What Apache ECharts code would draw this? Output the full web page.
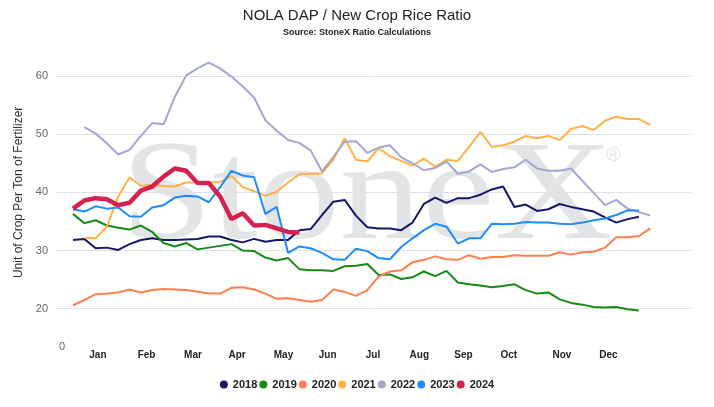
<!DOCTYPE html>
<html>
<head>
<meta charset="utf-8">
<script src="https://cdn.jsdelivr.net/npm/echarts@6/dist/echarts.min.js"></script>
<style>
  html, body { margin: 0; padding: 0; background: #fff; }
  #ratio-chart { width: 714px; height: 407px; }
</style>
</head>
<body>
<div id="ratio-chart"></div>
<script>
// week number of the year (0 = first week of Jan)
var weeks = [0, 1, 2, 3, 4, 5, 6, 7, 8, 9, 10, 11, 12, 13, 14, 15, 16, 17, 18, 19, 20,
    21, 22, 23, 24, 25, 26, 27, 28, 29, 30, 31, 32, 33, 34, 35, 36, 37, 38, 39, 40,
    41, 42, 43, 44, 45, 46, 47, 48, 49, 50, 51];

// month labels and where they sit on the week axis
var monthLabels = ['Jan', 'Feb', 'Mar', 'Apr', 'May', 'Jun', 'Jul', 'Aug', 'Sep', 'Oct', 'Nov', 'Dec'];
var monthPos = [2.2, 6.5, 10.6, 14.5, 18.6, 22.5, 26.5, 30.6, 34.5, 38.5, 43.2, 47.3];

var years = ['2018', '2019', '2020', '2021', '2022', '2023', '2024'];
var colors = ['#16166b', '#168a16', '#ff7f50', '#ffb347', '#a3a7d1', '#1e8cff', '#d42150'];

var y2018 = [31.8, 32.0, 30.4, 30.5, 30.1, 31.1, 31.8, 32.1, 31.8, 31.8, 31.9, 32.0, 32.4,
    32.4, 31.8, 31.4, 32.0, 31.5, 31.8, 31.8, 33.5, 33.7, 36.1, 38.4, 38.7, 36.0, 34.0,
    33.8, 33.8, 33.5, 34.8, 38.0, 39.1, 38.2, 39.0, 39.0, 39.6, 40.5, 41.0, 37.5, 37.9,
    36.8, 37.1, 38.0, 37.5, 37.1, 36.7, 35.7, 34.8, 35.4, 35.8, null];
var y2019 = [36.3, 34.7, 35.2, 34.3, 33.9, 33.6, 34.3, 33.2, 31.3, 30.7, 31.3, 30.2, 30.5,
    30.8, 31.1, 30.0, 29.9, 28.8, 28.3, 28.7, 26.8, 26.6, 26.6, 26.5, 27.3, 27.4, 27.7,
    25.8, 25.9, 25.1, 25.4, 26.4, 25.6, 26.5, 24.5, 24.2, 24.0, 23.7, 23.9, 24.2, 23.2,
    22.6, 22.8, 21.6, 21.0, 20.7, 20.3, 20.2, 20.3, 19.9, 19.7, null];
var y2020 = [20.6, 21.5, 22.5, 22.6, 22.8, 23.3, 22.8, 23.2, 23.4, 23.3, 23.2, 22.9, 22.6,
    22.6, 23.6, 23.7, 23.3, 22.6, 21.7, 21.8, 21.5, 21.2, 21.5, 23.3, 22.9, 22.2, 23.2,
    25.5, 26.4, 26.6, 28.0, 28.4, 29.0, 28.5, 28.4, 29.2, 28.6, 28.9, 28.9, 29.2, 29.1,
    29.1, 29.1, 29.7, 29.3, 29.7, 29.8, 30.5, 32.3, 32.3, 32.5, 33.8];
var y2021 = [null, 32.2, 32.1, 34.1, 39.3, 42.6, 41.1, 41.3, 41.1, 41.0, 41.7, 41.7, 41.7,
    41.8, 42.8, 40.9, 40.2, 39.4, 40.1, 41.7, 43.1, 43.2, 43.3, 45.6, 49.3, 45.6, 45.3,
    47.6, 46.2, 45.4, 44.6, 45.8, 44.4, 45.6, 45.4, 47.8, 50.4, 47.8, 48.1, 48.7, 49.7,
    49.3, 49.7, 49.0, 50.9, 51.4, 50.7, 52.3, 53.0, 52.6, 52.6, 51.6];
var y2022 = [null, 51.2, 50.1, 48.4, 46.5, 47.3, 49.7, 51.9, 51.7, 56.4, 60.1, 61.3, 62.3,
    61.3, 59.9, 58.2, 56.3, 52.4, 50.6, 49.0, 48.5, 47.2, 43.6, 46.1, 48.7, 48.8, 46.8,
    47.7, 48.1, 46.0, 45.0, 43.8, 44.2, 45.3, 43.2, 43.6, 44.8, 43.5, 44.0, 44.3, 45.6,
    44.1, 43.7, 43.7, 44.1, 42.0, 39.9, 37.8, 38.7, 37.2, 36.6, 36.0];
var y2023 = [37.1, 36.7, 37.6, 37.2, 37.4, 35.9, 35.8, 37.4, 37.8, 39.1, 39.4, 39.3, 38.3,
    40.9, 43.7, 42.9, 42.6, 36.3, 37.5, 29.6, 30.7, 30.4, 29.6, 28.5, 28.4, 30.3, 29.9,
    28.7, 28.5, 30.6, 32.1, 33.5, 34.6, 34.1, 31.2, 32.1, 32.1, 34.6, 34.5, 34.6, 34.9,
    34.8, 34.8, 34.6, 34.5, 34.8, 35.2, 35.5, 36.1, 36.9, 36.9, null];
var y2024 = [37.2, 38.6, 39.0, 38.8, 37.8, 38.2, 40.3, 41.0, 42.7, 44.1, 43.7, 41.6, 41.6,
    39.3, 35.4, 36.4, 34.3, 34.4, 33.8, 33.2, 33.1];

var yearValues = [y2018, y2019, y2020, y2021, y2022, y2023, y2024];

var yTicks = [10, 20, 30, 40, 50, 60, 70];

function toPoints(vals) {
    var pts = [];
    for (var i = 0; i < vals.length; i++) {
        if (vals[i] !== null) pts.push([weeks[i], vals[i]]);
    }
    return pts;
}

var myChart = echarts.init(document.getElementById('ratio-chart'));

var series = years.map(function (yr, k) {
    return {
        name: yr,
        type: 'line',
        data: toPoints(yearValues[k]),
        showSymbol: false,
        symbol: 'circle',
        lineStyle: { width: yr === '2024' ? 4.5 : 2, color: colors[k] },
        itemStyle: { color: colors[k] },
        z: 3 + k
    };
});

var option = {
    backgroundColor: '#FFFFFF',
    animation: false,
    textStyle: { fontFamily: 'Liberation Sans' },
    title: {
        text: 'NOLA DAP / New Crop Rice Ratio',
        subtext: 'Source: StoneX Ratio Calculations',
        left: 'center',
        top: 3,
        itemGap: 5,
        textStyle: { fontSize: 15, fontWeight: 'normal', color: '#222', fontFamily: 'Liberation Sans' },
        subtextStyle: { fontSize: 9, fontWeight: 'bold', color: '#222', fontFamily: 'Liberation Sans' }
    },
    legend: {
        data: years,
        top: 374,
        left: 'center',
        icon: 'circle',
        itemWidth: 8,
        itemHeight: 8,
        itemGap: 2,
        textStyle: { fontSize: 11, fontWeight: 'bold', color: '#222', fontFamily: 'Liberation Sans' }
    },
    grid: { left: 56, right: 23, top: 17.8, bottom: 40.1, containLabel: false },
    xAxis: {
        type: 'value',
        min: -1.5,
        max: 54.6,
        offset: -25,
        axisLine: { show: false },
        axisTick: { show: false },
        splitLine: { show: false },
        axisLabel: {
            customValues: monthPos,
            margin: 8,
            fontSize: 10,
            fontWeight: 'bold',
            color: '#222',
            formatter: function (v) {
                var idx = monthPos.indexOf(v);
                return idx >= 0 ? monthLabels[idx] : '';
            }
        }
    },
    yAxis: {
        type: 'value',
        min: yTicks[0],
        max: yTicks[yTicks.length - 1],
        interval: 10,
        name: 'Unit of Crop Per Ton of Fertilizer',
        nameLocation: 'middle',
        nameGap: 22,
        nameTextStyle: { fontSize: 12, color: '#333', fontFamily: 'Liberation Sans' },
        axisLine: { show: false },
        axisTick: { show: false },
        axisLabel: {
            fontSize: 11,
            color: '#666',
            margin: 8,
            formatter: function (v) {
                return (v === yTicks[0] || v === yTicks[yTicks.length - 1]) ? '' : String(v);
            }
        },
        splitLine: {
            lineStyle: {
                color: ['rgba(0,0,0,0)', '#e0e0e6', '#e0e0e6', '#e0e0e6', '#e0e0e6', '#e0e0e6', 'rgba(0,0,0,0)'],
                width: 1
            }
        }
    },
    graphic: [
        {
            // StoneX watermark behind the lines
            type: 'text',
            z: -1,
            silent: true,
            left: 121,
            top: 130,
            scaleY: 0.86,
            style: {
                text: 'StoneX',
                font: '164px "Liberation Serif"',
                fill: '#e3e4e6'
            }
        },
        {
            type: 'text',
            z: -1,
            silent: true,
            left: 606,
            top: 145,
            style: {
                text: '\u00AE',
                font: '20px "Liberation Sans"',
                fill: '#e3e4e6'
            }
        },
        {
            type: 'text',
            left: 59,
            top: 341,
            style: {
                text: '0',
                font: '11px "Liberation Sans"',
                fill: '#666'
            }
        }
    ],
    series: series
};

myChart.setOption(option);
</script>
</body>
</html>
